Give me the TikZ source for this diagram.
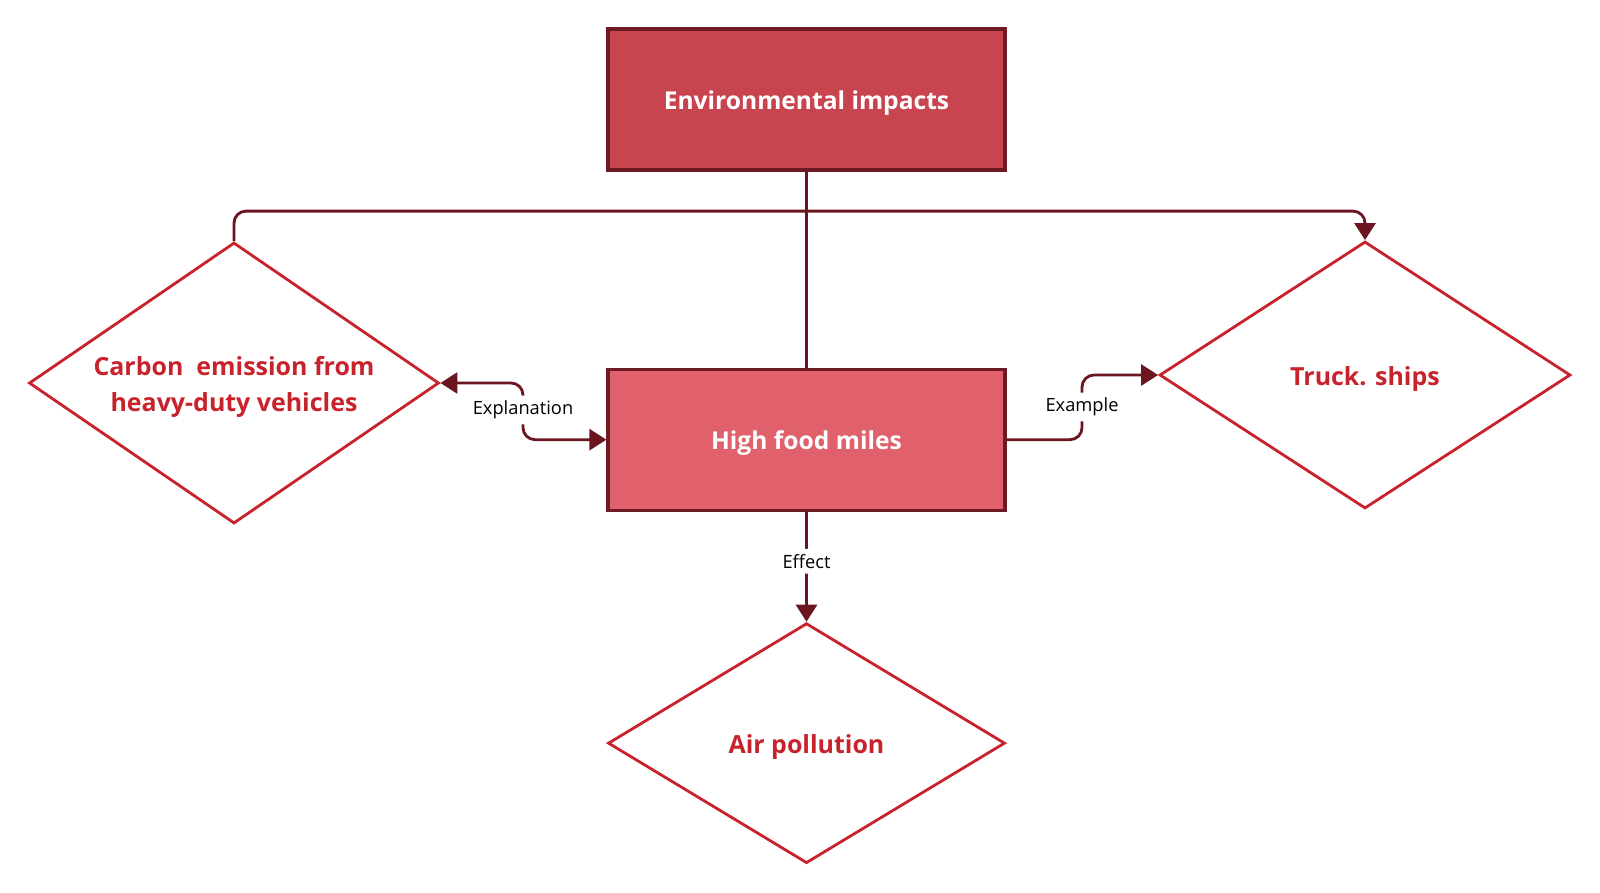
\documentclass[tikz,border=0pt]{standalone}
\usepackage{fontspec}
\setmainfont{Open Sans}
\usepackage{xcolor}
\usetikzlibrary{arrows.meta,positioning,shapes.geometric}
\definecolor{topred}{HTML}{C8454F}
\definecolor{midred}{HTML}{E0606B}
\definecolor{edgered}{HTML}{6E1A24}
\definecolor{diared}{HTML}{C8232C}
\definecolor{linered}{HTML}{6B1520}
\tikzset{
  box/.style={draw=edgered, line width=0.9pt, align=center, minimum width=3.97cm, minimum height=1.41cm, text=white, text height=7.4pt, text depth=1.7pt, font=\fontsize{7.0}{9}\selectfont\bfseries},
  branch/.style={diamond, draw=diared, line width=0.8pt, fill=white, inner sep=0pt},
  diatext/.style={align=center, inner sep=0pt, text=diared, yshift=-0.04cm, font=\fontsize{7.1}{10.3}\selectfont\bfseries},
  line/.style={-{Triangle[length=1.7mm, width=2.1mm]}, line width=0.8pt, draw=linered, rounded corners=0.12cm},
  tag/.style={fill=white, inner sep=1.5pt, font=\fontsize{5.2}{6}\selectfont}
}
\begin{document}
\begin{tikzpicture}
  \useasboundingbox (0,0) rectangle (16,-8.92);
  \node[box, fill=topred] (env) at (8.065,-0.995) {Environmental impacts};
  \node[box, fill=midred, below=1.96cm of env] (food) {High food miles};
  \node[branch, minimum width=4.10cm, minimum height=2.81cm] (carbon) at (2.34,-3.83) {};
  \node[diatext] (carbontext) at (carbon) {Carbon\ \ emission from\\heavy-duty vehicles};
  \node[branch, minimum width=4.11cm, minimum height=2.67cm] (truck) at (13.65,-3.75) {};
  \node[diatext] (trucktext) at (truck) {Truck. ships};
  \node[branch, minimum width=3.97cm, minimum height=2.40cm, below=1.10cm of food] (air) {};
  \node[diatext] (airtext) at (air) {Air pollution};
  % connectors
  \draw[line, -] (env) -- (food);
  \draw[line] (carbon.north) -- ++(0,0.30) -| (truck.north);
  \draw[line, {Triangle[length=1.7mm, width=2.1mm]}-{Triangle[length=1.7mm, width=2.1mm]}] (carbon.east) -| (5.23,-4.10) node[tag] {Explanation} |- (food.west);
  \draw[line] (food.east) -| (10.82,-4.07) node[tag] {Example} |- (truck.west);
  \draw[line] (food) -- node[tag, pos=0.45] {Effect} (air);
\end{tikzpicture}
\end{document}
